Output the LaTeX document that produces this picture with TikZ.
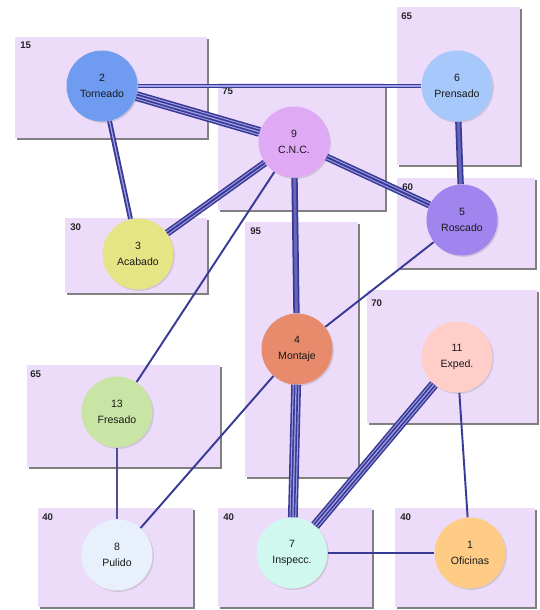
\documentclass[tikz,border=0pt]{standalone}
\usepackage{fontspec}
\setmainfont{Liberation Sans}
\usetikzlibrary{shadows}
\definecolor{boxfill}{HTML}{ECDCFA}
\definecolor{edgec}{HTML}{393996}
\definecolor{edgel}{HTML}{A0A0E4}
\definecolor{cTor}{HTML}{6F9CF0}
\definecolor{cCNC}{HTML}{DFA9F5}
\definecolor{cPre}{HTML}{A6C8FA}
\definecolor{cRos}{HTML}{A085EE}
\definecolor{cAca}{HTML}{E6E585}
\definecolor{cMon}{HTML}{E88A6C}
\definecolor{cExp}{HTML}{FFCEC8}
\definecolor{cFre}{HTML}{C9E5A6}
\definecolor{cPul}{HTML}{E8F0FB}
\definecolor{cIns}{HTML}{D0F8EE}
\definecolor{cOfi}{HTML}{FFCC85}
\tikzset{
 area/.style={fill=boxfill, draw=none, drop shadow={shadow xshift=1.1pt, shadow yshift=-1.1pt, fill=black!50, opacity=1}},
 arealabel/.style={font=\fontsize{5.5}{6}\selectfont\bfseries, text=black!85, anchor=north west, inner sep=0pt},
 station/.style={circle, minimum size=1.42cm, inner sep=0pt, align=center, font=\fontsize{6}{9}\selectfont, text=black!90, drop shadow={shadow xshift=0.8pt, shadow yshift=-0.8pt, opacity=0.25}},
 sedge/.style={draw=edgec, line width=1.1pt},
 fedge/.style={draw=edgec!70!gray, line width=0.8pt},
 dedge/.style={draw=edgec, line width=2.8pt, postaction={draw=edgel, line width=0.7pt}},
 hedge/.style={draw=edgec, line width=3.6pt, postaction={draw=edgec!55!edgel, line width=1.6pt}},
 tedge/.style={draw=edgec, line width=4.1pt, postaction={draw=edgel, line width=2.3pt}, postaction={draw=edgec, line width=1.1pt}},
 qedge/.style={draw=edgec, line width=5.6pt, postaction={draw=edgel, line width=3.8pt}, postaction={draw=edgec, line width=2.6pt}, postaction={draw=edgel, line width=0.7pt}}
}
\begin{document}
\begin{tikzpicture}[x=0.02cm, y=-0.02cm]
\useasboundingbox (0,0) rectangle (539,610);
% areas
\path[area] (15,37) rectangle (207,138);
\node[arealabel] (l15) at (20,41) {15};
\path[area] (218,83) rectangle (385,210);
\node[arealabel] (l75) at (222,87) {75};
\path[area] (397,7) rectangle (520,165);
\node[arealabel] (l65a) at (401,12) {65};
\path[area] (397,178) rectangle (535,268);
\node[arealabel] (l60) at (402,183) {60};
\path[area] (65,218) rectangle (207,293);
\node[arealabel] (l30) at (70,223) {30};
\path[area] (245,222) rectangle (358,477);
\node[arealabel] (l95) at (250,227) {95};
\path[area] (367,290) rectangle (537,423);
\node[arealabel] (l70) at (371,299) {70};
\path[area] (27,365) rectangle (220,467);
\node[arealabel] (l65b) at (30,370) {65};
\path[area] (38,508) rectangle (193,607);
\node[arealabel] (l40a) at (42,513) {40};
\path[area] (218,508) rectangle (372,607);
\node[arealabel] (l40b) at (223,513) {40};
\path[area] (395,508) rectangle (535,607);
\node[arealabel] (l40c) at (400,513) {40};
% stations
\node[station, fill=cTor] (n2) at (102,86) {2\\Torneado};
\node[station, fill=cCNC] (n9) at (294,142) {9\\C.N.C.};
\node[station, fill=cPre] (n6) at (457,86) {6\\Prensado};
\node[station, fill=cRos] (n5) at (462,220) {5\\Roscado};
\node[station, fill=cAca] (n3) at (138,254) {3\\Acabado};
\node[station, fill=cMon] (n4) at (297,349) {4\\Montaje};
\node[station, fill=cExp] (n11) at (457,357) {11\\Exped.};
\node[station, fill=cFre] (n13) at (117,412) {13\\Fresado};
\node[station, fill=cPul] (n8) at (117,555) {8\\Pulido};
\node[station, fill=cIns] (n7) at (292,553) {7\\Inspecc.};
\node[station, fill=cOfi] (n1) at (470,553) {1\\Oficinas};
% connections
\path[qedge] (n2) -- (n9);
\path[dedge] (n2) -- (n6);
\path[dedge] (n2) -- (n3);
\path[tedge] (n9) -- (n3);
\path[tedge] (n9) -- (n5);
\path[hedge] (n9) -- (n4);
\path[sedge] (n9) -- (n13);
\path[hedge] (n6) -- (n5);
\path[sedge] (n5) -- (n4);
\path[qedge] (n4) -- (n7);
\path[sedge] (n4) -- (n8);
\path[qedge] (n11) -- (n7);
\path[sedge] (n11) -- (n1);
\path[fedge] (n13) -- (n8);
\path[sedge] (n7) -- (n1);
\end{tikzpicture}
\end{document}
